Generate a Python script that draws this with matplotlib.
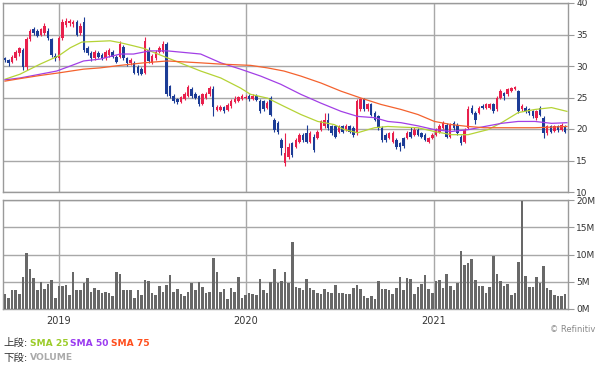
import pandas as pd
import matplotlib
matplotlib.use('Agg')
import matplotlib.pyplot as plt
from matplotlib.ticker import FixedLocator

plt.rcParams['font.family'] = ['DejaVu Sans', 'Noto Sans CJK JP']

# weekly candles, first bar week of 2018-09-18
start = pd.Timestamp('2018-09-18')
year_marks = ['2019-01-01', '2020-01-01', '2021-01-01']
year_labels = ['2019', '2020', '2021']

opens = [31.2, 30.9, 30.6, 31.3, 32.0, 32.5, 29.8, 34.3, 35.8, 35.5,
         35.0, 35.2, 35.6, 34.3, 31.6, 31.3, 34.5, 36.5, 36.8, 36.6,
         37.0, 35.3, 37.0, 32.8, 32.0, 31.2, 32.0, 31.8, 31.2, 31.8,
         32.3, 31.5, 31.5, 33.0, 31.2, 30.4, 30.5, 29.8, 29.5, 28.9,
         32.6, 30.5, 31.2, 32.2, 32.2, 33.5, 26.8, 25.3, 24.8, 24.3,
         24.8, 25.3, 26.3, 25.5, 25.2, 24.0, 25.0, 25.5, 26.3, 23.0,
         23.0, 23.5, 23.0, 23.6, 24.3, 24.5, 24.8, 25.0, 25.3, 24.8,
         25.3, 24.5, 24.4, 23.3, 24.9, 21.5, 21.0, 18.3, 14.6, 15.6,
         17.8, 17.2, 18.0, 19.1, 19.4, 18.0, 18.8, 18.6, 19.9, 20.4,
         21.5, 20.4, 20.4, 19.6, 20.4, 19.9, 20.4, 20.2, 19.4, 23.1,
         24.7, 23.1, 23.9, 22.5, 22.0, 20.2, 19.1, 18.6, 18.0, 18.3,
         17.8, 18.6, 18.6, 19.6, 19.1, 19.9, 19.4, 19.1, 18.0, 18.6,
         19.1, 19.6, 20.2, 20.7, 18.8, 21.0, 20.7, 18.8, 18.0, 20.2,
         23.4, 22.6, 22.6, 23.7, 23.4, 23.4, 23.9, 23.1, 24.9, 25.7,
         25.5, 26.0, 26.4, 26.0, 23.1, 23.4, 23.1, 22.8, 21.8, 23.4,
         21.8, 19.4, 20.4, 19.7, 20.4, 19.9, 20.4]
highs = [31.5, 31.1, 31.7, 32.6, 33.0, 32.8, 34.6, 35.9, 36.2, 35.8,
         36.0, 36.8, 36.0, 34.5, 32.0, 34.8, 37.4, 37.6, 37.5, 37.3,
         37.3, 36.8, 37.8, 33.2, 32.4, 32.6, 32.4, 32.1, 32.6, 32.8,
         32.6, 31.8, 33.9, 33.3, 31.5, 31.3, 30.8, 30.1, 29.8, 34.6,
         33.0, 31.9, 32.5, 33.1, 34.0, 33.8, 27.0, 25.6, 25.0, 25.3,
         25.8, 27.0, 26.6, 25.8, 25.4, 25.7, 25.8, 26.8, 26.8, 23.8,
         23.8, 23.7, 24.1, 24.8, 25.2, 25.3, 25.5, 25.4, 25.6, 25.6,
         25.6, 24.7, 24.6, 24.5, 25.3, 21.8, 21.3, 18.6, 19.4, 17.8,
         18.0, 18.6, 19.4, 19.4, 20.7, 19.7, 19.2, 19.9, 21.5, 22.6,
         22.6, 20.7, 20.6, 20.7, 20.6, 20.8, 20.6, 20.4, 24.7, 25.0,
         25.0, 24.1, 24.1, 22.8, 22.3, 20.4, 19.4, 19.6, 19.7, 18.5,
         18.0, 18.8, 19.7, 20.3, 20.3, 20.2, 19.6, 19.3, 18.8, 19.3,
         20.1, 20.8, 21.3, 21.0, 21.0, 21.3, 20.9, 19.0, 20.1, 23.6,
         23.8, 22.8, 23.6, 23.9, 24.1, 24.1, 24.1, 25.2, 26.3, 25.9,
         26.5, 26.7, 26.9, 26.2, 24.0, 23.6, 23.3, 23.0, 23.0, 23.6,
         22.0, 20.6, 20.6, 20.6, 20.6, 21.0, 20.7]
lows = [30.6, 30.0, 30.4, 31.0, 31.6, 29.3, 29.4, 34.0, 34.9, 34.6,
        34.8, 35.0, 34.2, 31.5, 30.8, 31.0, 34.2, 36.2, 36.4, 36.2,
        34.8, 35.0, 32.3, 31.8, 30.8, 31.0, 31.2, 30.9, 31.0, 31.5,
        31.2, 30.4, 31.2, 30.9, 30.0, 30.1, 28.7, 28.6, 28.5, 28.7,
        30.5, 30.3, 31.0, 32.0, 32.0, 25.3, 25.0, 24.2, 24.0, 24.1,
        24.6, 25.1, 25.0, 24.7, 23.6, 23.8, 24.8, 25.3, 22.0, 22.8,
        22.8, 22.6, 22.8, 23.4, 24.1, 24.3, 24.6, 24.7, 24.5, 24.6,
        24.4, 22.5, 22.8, 23.1, 22.0, 19.5, 19.2, 15.8, 14.2, 15.2,
        15.5, 17.0, 17.8, 18.0, 17.8, 17.8, 16.4, 18.4, 19.7, 20.2,
        19.8, 19.1, 18.5, 19.4, 19.3, 19.7, 19.4, 18.8, 19.1, 22.9,
        22.9, 22.9, 22.0, 21.2, 19.9, 18.0, 18.0, 18.4, 17.8, 16.8,
        16.5, 17.0, 18.4, 18.6, 18.9, 18.9, 18.6, 18.1, 17.8, 18.4,
        18.9, 19.4, 20.0, 18.6, 18.6, 19.9, 19.1, 17.5, 17.8, 20.0,
        22.4, 20.8, 22.4, 23.2, 23.2, 23.2, 22.6, 22.9, 24.7, 24.6,
        25.3, 25.8, 26.2, 22.6, 22.9, 22.6, 22.3, 21.8, 21.5, 22.0,
        18.6, 19.1, 19.4, 19.5, 19.6, 19.7, 19.4]
closes = [30.9, 30.5, 31.5, 32.3, 32.8, 29.8, 34.3, 35.5, 35.2, 34.8,
          35.8, 36.4, 34.5, 31.8, 31.2, 34.5, 37.0, 37.2, 37.2, 37.0,
          35.0, 36.4, 32.5, 32.0, 31.2, 32.3, 31.5, 31.2, 32.3, 32.5,
          31.5, 30.7, 33.5, 31.2, 30.4, 31.0, 28.9, 28.9, 28.8, 34.0,
          30.8, 31.6, 32.2, 32.8, 33.5, 25.6, 25.3, 24.5, 24.3, 25.0,
          25.5, 26.6, 25.3, 25.0, 24.0, 25.5, 25.5, 26.5, 23.5, 23.5,
          23.5, 22.9, 23.8, 24.5, 24.8, 25.1, 25.2, 25.1, 24.7, 25.3,
          24.6, 22.8, 23.1, 24.2, 22.3, 19.9, 19.5, 17.0, 16.2, 17.2,
          15.8, 18.3, 19.1, 18.3, 18.0, 19.4, 16.7, 19.6, 21.2, 21.5,
          20.2, 19.4, 18.8, 20.4, 19.6, 20.5, 19.6, 19.1, 24.4, 24.7,
          23.1, 23.9, 22.3, 21.5, 20.2, 18.3, 18.3, 19.4, 19.4, 17.2,
          17.2, 17.3, 19.4, 18.8, 19.9, 19.1, 18.8, 18.3, 18.6, 19.1,
          19.9, 20.4, 21.0, 18.8, 20.7, 20.2, 19.4, 17.8, 19.9, 23.1,
          22.6, 21.5, 23.4, 23.4, 23.9, 23.9, 22.8, 24.9, 26.0, 25.2,
          26.3, 26.5, 26.6, 22.8, 23.7, 22.8, 22.6, 22.0, 22.8, 22.3,
          19.4, 20.4, 19.6, 20.4, 19.9, 20.7, 19.6]

# volume in millions
volume = [2.7, 2.1, 3.4, 3.5, 2.7, 5.8, 10.3, 7.4, 5.6, 3.5,
          4.9, 3.7, 4.6, 5.4, 2.1, 4.3, 4.3, 4.4, 2.6, 6.7,
          3.5, 3.5, 4.7, 5.6, 3.2, 3.8, 3.5, 2.9, 3.2, 2.9,
          2.3, 6.8, 6.5, 3.4, 3.4, 3.5, 2.1, 3.4, 2.6, 5.3,
          5.2, 3.0, 2.6, 4.3, 3.2, 4.4, 6.2, 3.2, 3.7, 2.7,
          2.4, 3.2, 4.7, 3.4, 4.9, 4.0, 3.0, 3.2, 9.3, 6.8,
          3.2, 3.7, 1.8, 3.8, 3.2, 5.9, 2.1, 2.6, 2.9, 2.7,
          2.6, 5.5, 3.5, 2.9, 4.9, 7.4, 4.7, 5.1, 6.8, 4.7,
          12.3, 4.0, 3.8, 3.5, 5.5, 3.8, 3.5, 2.9, 2.7, 3.7,
          3.2, 3.0, 4.4, 2.9, 3.0, 2.7, 2.7, 3.8, 4.4, 3.7,
          2.3, 2.0, 2.4, 1.8, 5.2, 3.7, 3.7, 3.5, 2.7, 3.8,
          5.8, 3.5, 5.6, 5.5, 2.7, 4.1, 4.6, 6.2, 3.7, 3.0,
          5.2, 5.3, 3.9, 6.5, 4.3, 3.5, 4.7, 10.6, 8.0, 8.5,
          9.1, 5.3, 4.3, 4.2, 3.0, 4.1, 9.7, 6.5, 5.2, 4.2,
          4.6, 2.6, 3.0, 8.7, 19.8, 6.0, 4.0, 4.1, 5.8, 4.7,
          7.9, 3.8, 3.5, 2.6, 2.4, 2.4, 2.7]

# moving averages (week index, value)
sma25_wk = [0, 4.2, 9.8, 14.9, 18.2, 21.4, 29.3, 32.1, 35.8, 38.6, 45.2, 54.5,
            60.1, 65.6, 68.4, 73.1, 77.7, 82.4, 87.1, 91.7, 94.5, 98.2, 102.9,
            106.6, 110.3, 115, 119.6, 124.3, 129, 134.5, 138.3, 142.9, 147.6,
            152.2, 156.5]
sma25 = [27.9, 28.7, 30.3, 31.6, 32.9, 33.8, 34.0, 33.7, 33.2, 32.8, 31.3, 29.2,
         28.1, 26.5, 25.5, 24.9, 23.6, 22.3, 21.2, 20.7, 19.9, 19.4, 20.2,
         20.4, 20.3, 20.2, 19.6, 19.1, 19.1, 19.9, 21.0, 22.6, 23.1,
         23.4, 22.8]
sma50_wk = [0, 4.2, 9.8, 14.4, 18.2, 21.9, 26.5, 32.1, 35.8, 40.4, 45.2, 54.5,
            60.1, 65.6, 71.2, 76.8, 82.4, 88, 93.6, 98.2, 102.9, 106.6, 110.3,
            115, 119.6, 124.3, 129, 133.6, 138.3, 142.9, 147.6, 152.2, 156.5]
sma50 = [27.8, 28.1, 28.7, 29.2, 30.0, 30.8, 31.1, 31.9, 31.9, 32.4, 32.4, 31.9,
         30.5, 29.5, 28.4, 27.1, 25.5, 24.1, 22.8, 22.0, 21.8, 21.2, 21.0,
         20.5, 19.9, 19.6, 19.9, 20.4, 20.9, 21.2, 21.2, 20.9, 21.0]
sma75_wk = [0, 4.2, 9.8, 14.9, 21.9, 26.5, 32.1, 38.6, 45.2, 54.5, 60.1, 68.4,
            73.1, 77.7, 82.4, 88, 93.6, 99.2, 104.7, 110.3, 115, 119.6, 124.3,
            129, 133.6, 138.3, 142.9, 147.6, 152.2, 156.5]
sma75 = [27.6, 28.0, 28.5, 28.9, 29.5, 29.7, 30.1, 30.5, 30.8, 30.5, 30.3, 30.1,
         29.7, 29.2, 28.4, 27.3, 26.0, 24.9, 23.9, 23.1, 22.3, 21.2, 20.7,
         20.4, 20.2, 20.2, 20.2, 20.2, 20.3, 20.4]

up_col = '#e8204c'
down_col = '#1c3c96'
grid_col = '#a8a8a8'
frame_col = '#9a9a9a'

weeks = list(range(len(closes)))
year_pos = [(pd.Timestamp(d) - start).days / 7 for d in year_marks]

fig = plt.figure(figsize=(6, 3.66), dpi=100)
ax = fig.add_axes([3 / 600, 1 - 192 / 366, 565 / 600, 189 / 366])
axv = fig.add_axes([3 / 600, 1 - 309 / 366, 565 / 600, 109 / 366])

# candles
for i in weeks:
    o, h, l, c = opens[i], highs[i], lows[i], closes[i]
    col = up_col if c >= o else down_col
    ax.vlines(i, l, h, color=col, lw=0.8, zorder=3)
    ax.bar(i, max(abs(c - o), 0.12), bottom=min(o, c), width=0.7,
           color=col, lw=0, zorder=4)

ax.plot(sma25_wk, sma25, color='#b5d336', lw=0.9, zorder=5)
ax.plot(sma50_wk, sma50, color='#a23fe6', lw=0.9, zorder=5)
ax.plot(sma75_wk, sma75, color='#f4622e', lw=0.9, zorder=5)

# volume
axv.bar(weeks, volume, width=0.72, color='#686868', lw=0, zorder=3)

for a, top, ticks, labels in [
        (ax, 40, [10, 15, 20, 25, 30, 35, 40], ['10', '15', '20', '25', '30', '35', '40']),
        (axv, 20, [0, 5, 10, 15, 20], ['0M', '5M', '10M', '15M', '20M'])]:
    a.set_xlim(-0.55, 156.8)
    a.set_ylim(ticks[0], top)
    a.yaxis.tick_right()
    a.set_yticks(ticks)
    a.set_yticklabels(labels)
    a.tick_params(axis='y', length=4, width=0.8, color=frame_col, pad=2,
                  labelsize=6.5, labelcolor='#333333')
    a.xaxis.set_major_locator(FixedLocator(year_pos))
    a.tick_params(axis='x', length=0, labelsize=7, labelcolor='#333333', pad=5)
    a.grid(True, color=grid_col, lw=1.0, zorder=0)
    for s in a.spines.values():
        s.set_color(frame_col)
        s.set_linewidth(1.0)

ax.set_xticklabels([])
axv.set_xticklabels(year_labels)

# legend text at the bottom
fs = 6.6
y1 = 1 - 343 / 366
y2 = 1 - 358 / 366
fig.text(3 / 600, y1, '上段:', fontsize=7.5, color='#333333', va='center')
fig.text(30 / 600, y1, 'SMA 25', fontsize=fs, color='#9ccc2a', va='center', weight='bold')
fig.text(70 / 600, y1, 'SMA 50', fontsize=fs, color='#9a3cf0', va='center', weight='bold')
fig.text(111 / 600, y1, 'SMA 75', fontsize=fs, color='#ff4f1e', va='center', weight='bold')
fig.text(3 / 600, y2, '下段:', fontsize=7.5, color='#333333', va='center')
fig.text(30 / 600, y2, 'VOLUME', fontsize=fs, color='#aaaaaa', va='center', weight='bold')
fig.text(595 / 600, 1 - 329 / 366, '© Refinitiv', fontsize=6, color='#888888',
         va='center', ha='right')

plt.savefig('out.png', dpi=100)
